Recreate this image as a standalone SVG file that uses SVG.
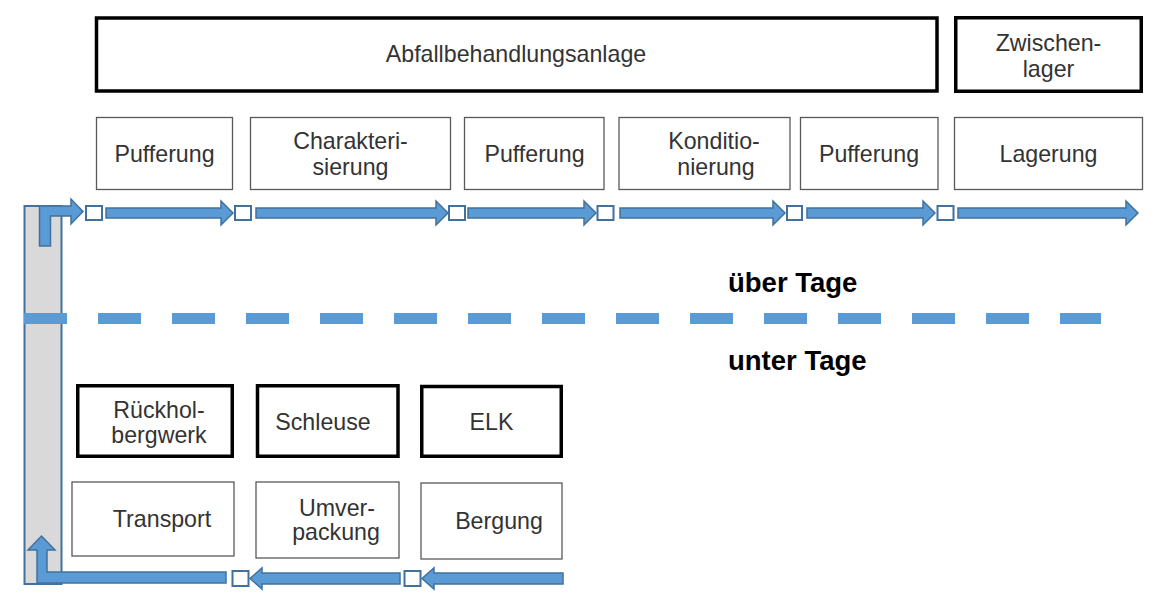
<svg xmlns="http://www.w3.org/2000/svg" width="1170" height="610" viewBox="0 0 1170 610">
<style>
.thick{fill:#fff;stroke:#000;stroke-width:3.5}
.thin{fill:#fff;stroke:#595959;stroke-width:1.3}
.t{font-family:"Liberation Sans",Arial,sans-serif;font-size:23.2px;fill:#333;text-anchor:middle}
.b{font-family:"Liberation Sans",Arial,sans-serif;font-size:27.5px;font-weight:bold;fill:#000}
.arr{fill:#5b9bd5;stroke:#41719c;stroke-width:1.5;stroke-linejoin:miter}
.sq{fill:#fff;stroke:#41719c;stroke-width:2}
</style>
<rect width="1170" height="610" fill="#fff"/>
<g id="shaft">
<rect x="24.5" y="206" width="37" height="378" fill="#d9d9d9" stroke="#41719c" stroke-width="2"/>
</g>
<line id="divider" x1="24" y1="318.5" x2="1101" y2="318.5" stroke="#5b9bd5" stroke-width="11" stroke-dasharray="43 31"/>
<g id="n-abfall"><rect class="thick" x="96.5" y="18" width="840.5" height="73"/><text class="t" x="516" y="62">Abfallbehandlungsanlage</text></g>
<g id="n-zwischenlager"><rect class="thick" x="955.75" y="17.75" width="185.5" height="73.5"/><text class="t" x="1048.5" y="51">Zwischen-</text><text class="t" x="1048.5" y="77">lager</text></g>
<g id="n-pufferung1"><rect class="thin" x="96.5" y="117.5" width="136" height="72"/><text class="t" x="164.5" y="162">Pufferung</text></g>
<g id="n-charakterisierung"><rect class="thin" x="250.5" y="117.5" width="200" height="72"/><text class="t" x="350.5" y="149">Charakteri-</text><text class="t" x="350.5" y="175">sierung</text></g>
<g id="n-pufferung2"><rect class="thin" x="464.5" y="117.5" width="139.5" height="72"/><text class="t" x="534.5" y="162">Pufferung</text></g>
<g id="n-konditionierung"><rect class="thin" x="619" y="117.5" width="171" height="72"/><text class="t" x="714" y="149">Konditio-</text><text class="t" x="716" y="175">nierung</text></g>
<g id="n-pufferung3"><rect class="thin" x="800.5" y="117.5" width="137.5" height="72"/><text class="t" x="869" y="162">Pufferung</text></g>
<g id="n-lagerung"><rect class="thin" x="954.5" y="117.5" width="188" height="72"/><text class="t" x="1048.5" y="162">Lagerung</text></g>
<g id="n-rueckholbergwerk"><rect class="thick" x="77.75" y="385.75" width="154.5" height="70.5"/><text class="t" x="159" y="418">Rückhol-</text><text class="t" x="159" y="443">bergwerk</text></g>
<g id="n-schleuse"><rect class="thick" x="257.5" y="385.75" width="140.5" height="70.5"/><text class="t" x="323" y="430">Schleuse</text></g>
<g id="n-elk"><rect class="thick" x="421.75" y="386.5" width="139.5" height="69.75"/><text class="t" x="491.5" y="430">ELK</text></g>
<g id="n-transport"><rect class="thin" x="72" y="482" width="162" height="74"/><text class="t" x="162" y="527">Transport</text></g>
<g id="n-umverpackung"><rect class="thin" x="256" y="482" width="143" height="76"/><text class="t" x="337" y="516">Umver-</text><text class="t" x="336" y="540">packung</text></g>
<g id="n-bergung"><rect class="thin" x="421" y="483" width="141" height="76"/><text class="t" x="499" y="529">Bergung</text></g>
<g id="labels">
<text class="b" x="728" y="292">über Tage</text>
<text class="b" x="728" y="370">unter Tage</text>
</g>
<g id="connectors">
<path class="arr" d="M39.5,246 L39.5,206 L71,206 L71,199 L83,211.5 L71,224 L71,216 L50.5,216 L50.5,246 Z"/>
<path class="arr" d="M106,208 L221,208 L221,201 L233,213 L221,225 L221,218 L106,218 Z"/>
<path class="arr" d="M256,208 L436,208 L436,201 L448,213 L436,225 L436,218 L256,218 Z"/>
<path class="arr" d="M468,208 L584,208 L584,201 L596,213 L584,225 L584,218 L468,218 Z"/>
<path class="arr" d="M620,208 L773,208 L773,201 L785,213 L773,225 L773,218 L620,218 Z"/>
<path class="arr" d="M807,208 L923,208 L923,201 L935,213 L923,225 L923,218 L807,218 Z"/>
<path class="arr" d="M958,208 L1126,208 L1126,201 L1138,213 L1126,225 L1126,218 L958,218 Z"/>
<rect class="sq" x="86" y="206" width="16" height="14"/>
<rect class="sq" x="235" y="206" width="16" height="14"/>
<rect class="sq" x="449" y="206" width="16" height="14"/>
<rect class="sq" x="597.5" y="206" width="16" height="14"/>
<rect class="sq" x="787" y="206" width="15" height="14"/>
<rect class="sq" x="937.5" y="206" width="16" height="14"/>
<path class="arr" d="M563,573 L434,573 L434,568 L422,578.5 L434,589 L434,584 L563,584 Z"/>
<path class="arr" d="M400,573 L262,573 L262,568 L250,578.5 L262,589 L262,584 L400,584 Z"/>
<rect class="sq" x="404.5" y="571" width="16" height="15"/>
<rect class="sq" x="232.5" y="571" width="16" height="15"/>
<path class="arr" d="M226,572 L226,583 L37,583 L37,550 L28,550 L41.5,536 L55,550 L47,550 L47,572 Z"/>
</g>
</svg>
